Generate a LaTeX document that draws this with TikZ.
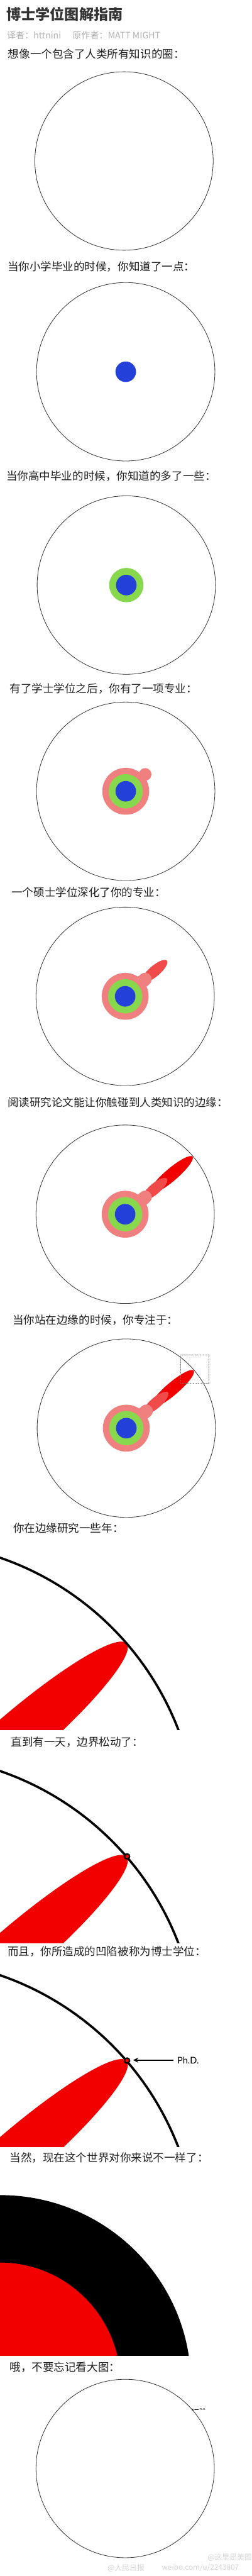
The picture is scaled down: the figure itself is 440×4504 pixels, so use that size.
\documentclass[tikz,border=0pt]{standalone}
\usepackage{fontspec}
\usepackage{tikz}
\usetikzlibrary{arrows.meta}
\setmainfont{Noto Sans CJK SC}
\newfontfamily\phdfont{Lato}
\definecolor{KnowBlue}{HTML}{2341D9}
\definecolor{KnowGreen}{HTML}{88D84E}
\definecolor{KnowPink}{HTML}{F08080}
\definecolor{KnowMaster}{HTML}{F04A4A}
\definecolor{KnowRed}{HTML}{F20000}
\definecolor{KnowInk}{HTML}{1E1E1E}
\definecolor{KnowGray}{HTML}{B0B0B0}
\definecolor{KnowMark}{HTML}{D4D4D4}

\tikzset{
  capline/.style={anchor=west, inner sep=0pt, font=\fontsize{19.3}{22}\selectfont, color=KnowInk},
  worldring/.style={draw=black!80, line width=0.9pt},
  edgeline/.style={draw=black, line width=4pt},
  markline/.style={anchor=west, inner sep=0pt, font=\fontsize{13}{15}\selectfont, color=KnowMark},
}

\begin{document}
\begin{tikzpicture}[x=1pt, y=-1pt]
  \useasboundingbox (0,0) rectangle (440,4504);
  \fill[white] (0,0) rectangle (440,4504);

  %% Title
  \node[anchor=west, inner sep=0pt, font=\fontsize{25.5}{28}\selectfont\bfseries, color=black!80] (title) at (11,24.5) {博士学位图解指南};
  \node[anchor=west, inner sep=0pt, font=\fontsize{15.5}{18}\selectfont, color=KnowGray] (credit) at (12,61.5) {译者：httnini\hspace{20pt}原作者：MATT MIGHT};

  %% Captions
  \node[capline] (cap1) at (14,94) {想像一个包含了人类所有知识的圈：};
  \node[capline] (cap2) at (13,466) {当你小学毕业的时候，你知道了一点：};
  \node[capline] (cap3) at (11,832.5) {当你高中毕业的时候，你知道的多了一些：};
  \node[capline] (cap4) at (17,1203.5) {有了学士学位之后，你有了一项专业：};
  \node[capline] (cap5) at (20,1560) {一个硕士学位深化了你的专业：};
  \node[capline] (cap6) at (13,1927) {阅读研究论文能让你触碰到人类知识的边缘：};
  \node[capline] (cap7) at (22,2308.5) {当你站在边缘的时候，你专注于：};
  \node[capline] (cap8) at (23,2671.5) {你在边缘研究一些年：};
  \node[capline] (cap9) at (19,3046) {直到有一天，边界松动了：};
  \node[capline] (cap10) at (13,3412.5) {而且，你所造成的凹陷被称为博士学位：};
  \node[capline] (cap11) at (17,3773) {当然，现在这个世界对你来说不一样了：};
  \node[capline] (cap12) at (17,4138.5) {哦，不要忘记看大图：};

  %% Circle of all human knowledge
  \foreach \cx/\cy in {217/281.5, 220/650, 221/1023, 220/1383.5, 219/1742, 219/2123, 221/2497, 219/4316}
    \draw[worldring] (\cx,\cy) circle (156);

  %% Elementary school
  \fill[KnowBlue] (220,650) circle (18);

  %% High school
  \fill[KnowGreen] (221,1023) circle (30);
  \fill[KnowBlue] (221,1023) circle (18);

  %% Bachelor's
  \begin{scope}[shift={(220,1383.5)}, rotate=41]
    \fill[KnowPink] (0,0) circle (41);
    \fill[KnowPink] (45,0) circle (11);
    \fill[KnowGreen] (0,0) circle (30);
    \fill[KnowBlue] (0,0) circle (18);
  \end{scope}

  %% Ph.D. spike reaching the edge
  \foreach \cx/\cy in {219/2123, 221/2497}
    \fill[KnowRed, shift={(\cx,\cy)}, rotate=40.5] (106,0) ellipse (49 and 11);

  %% Master's specialty
  \foreach \cx/\cy in {219/1742, 219/2123, 221/2497} {
    \begin{scope}[shift={(\cx,\cy)}, rotate=40.5]
      \fill[KnowMaster] (68,0) ellipse (28 and 9.5);
      \fill[KnowPink] (0,0) circle (41);
      \draw[KnowPink, line width=23pt, line cap=round] (0,0) -- (46,0);
      \fill[KnowGreen] (0,0) circle (30);
      \fill[KnowBlue] (0,0) circle (18);
    \end{scope}
  }

  %% Focus box
  \draw[black!55, densely dotted, line width=0.8pt] (316,2369) rectangle (366,2418);

  %% Zoomed edge: years of pushing
  \begin{scope}
    \clip (0,2690) rectangle (440,3024);
    \fill[KnowRed, shift={(-166,3208)}, rotate=40.8] (252,0) ellipse (260 and 44);
    \draw[edgeline] (-166,3208) circle (512);
  \end{scope}

  %% Zoomed edge: the boundary gives
  \begin{scope}
    \clip (0,3063) rectangle (440,3397);
    \fill[KnowRed, shift={(-166,3581)}, rotate=40.8] (252,0) ellipse (260 and 44);
    \draw[edgeline] (-166,3581) circle (512);
    \draw[line width=2.5pt, fill=KnowRed, shift={(-166,3581)}, rotate=40.8] (513,0) circle (4.5);
  \end{scope}

  %% Zoomed edge: the dent
  \begin{scope}
    \clip (0,3430) rectangle (440,3754);
    \fill[KnowRed, shift={(-166,3938)}, rotate=40.8] (252,0) ellipse (260 and 44);
    \draw[edgeline] (-166,3938) circle (512);
    \draw[line width=2.5pt, fill=KnowRed, shift={(-166,3938)}, rotate=40.8] (513,0) circle (4.5);
  \end{scope}
  \node[anchor=west, inner sep=0pt, font=\phdfont\fontsize{16}{18}\selectfont] (phd) at (310,3602) {Ph.D.};
  \coordinate (dent) at (233,3602);
  \draw[line width=2.5pt, -{Stealth[length=9pt, width=9pt]}] ([xshift=-7pt]phd.west) -- (dent);

  %% The world looks different
  \begin{scope}
    \clip (0,3795) rectangle (440,4119);
    \fill[black] (0,4168) ellipse (334 and 330);
    \fill[KnowRed] (0,4168) ellipse (211 and 212);
  \end{scope}

  %% Big picture
  \fill[black, shift={(219,4316)}, rotate=41] (156.5,0) circle (1.6);
  \node[anchor=west, inner sep=0pt, font=\phdfont\fontsize{4.5}{5}\selectfont] (phdsmall) at (349,4213) {Ph.D.};
  \coordinate (dentsmall) at (340,4213);
  \draw[line width=0.5pt, -{Stealth[length=2pt, width=2pt]}] ([xshift=-1pt]phdsmall.west) -- (dentsmall);

  %% Watermarks
  \node[markline] (mark1) at (363,4471) {@这里是美国};
  \node[markline] (mark2) at (188,4490) {@人民日报};
  \node[markline] (mark3) at (283,4490) {weibo.com/u/2243807};
\end{tikzpicture}
\end{document}
